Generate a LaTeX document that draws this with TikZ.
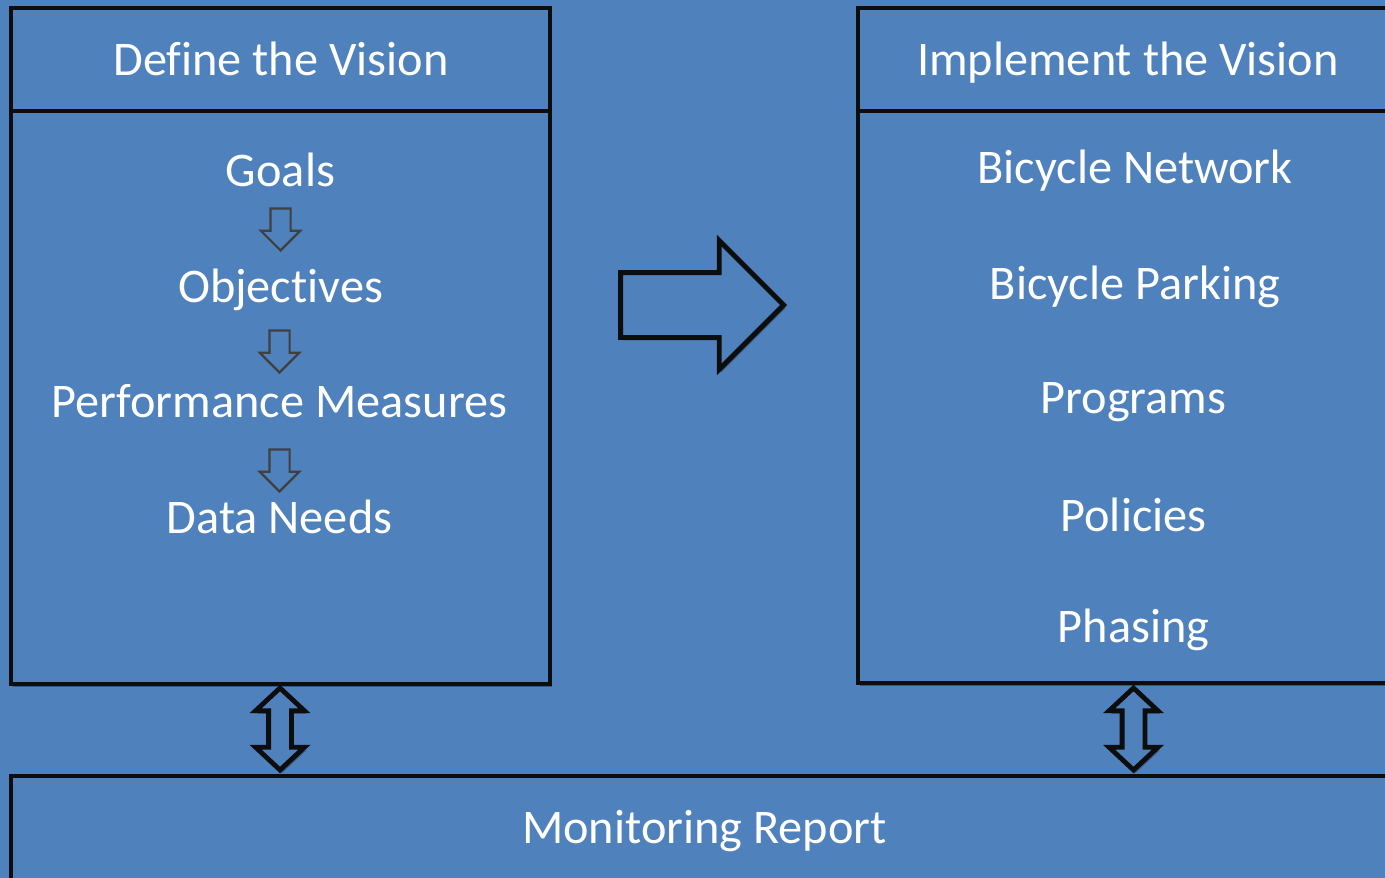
\documentclass[tikz,border=0pt]{standalone}
\usepackage{fontspec}
\setmainfont{Carlito}[RawFeature=-liga]
\usetikzlibrary{shapes.arrows,shadows}
\definecolor{bgblue}{HTML}{4F81BD}
\definecolor{edge}{HTML}{0D0D0D}
\definecolor{thinedge}{HTML}{404040}
\tikzset{
  softshadow/.style={drop shadow={shadow xshift=2pt,shadow yshift=-3pt,opacity=0.3,fill=black}},
  panel/.style={draw=edge,line width=4.8pt,fill=bgblue,softshadow,inner sep=0pt,outer sep=0pt},
  label/.style={text=white,font=\fontsize{48.3}{58}\selectfont,anchor=base,inner sep=0pt},
  smallarrow/.style={single arrow,draw=thinedge,line width=2.2pt,rotate=-90,inner xsep=0pt,inner ysep=9pt,
    minimum height=42pt,single arrow head extend=9.5pt,single arrow tip angle=90,anchor=tip},
  bigarrow/.style={single arrow,draw=edge,line width=4.8pt,fill=bgblue,softshadow,inner xsep=0pt,inner ysep=30pt,
    minimum height=163pt,single arrow head extend=32pt,single arrow tip angle=90,anchor=tip},
  updown/.style={double arrow,draw=edge,line width=4.8pt,fill=bgblue,softshadow,rotate=90,inner xsep=0pt,inner ysep=9pt,
    minimum height=82pt,double arrow head extend=13pt,double arrow tip angle=94},
}
\begin{document}
\begin{tikzpicture}[x=1pt,y=-1pt]
\useasboundingbox (0,0) rectangle (1385,878);
\clip (0,0) rectangle (1385,878);
\fill[bgblue] (0,0) rectangle (1385,878);

% panels
\node[panel,minimum width=539pt,minimum height=676pt] (defbox) at (280.5,346) {};
\draw[edge,line width=4.8pt] (defbox.west |- 0,111) coordinate (dl) -- (defbox.east |- 0,111) coordinate (dr);
\node[panel,minimum width=560pt,minimum height=675pt] (impbox) at (1138,345.5) {};
\draw[edge,line width=4.8pt] (impbox.west |- 0,111) coordinate (il) -- (impbox.east |- 0,111) coordinate (ir);
\node[panel,minimum width=1400pt,minimum height=130pt] (monbox) at (711,841) {};

% left texts
\node[label] (defhead) at (281,75) {Define the Vision};
\node[label] (goals) at (280.5,186) {Goals};
\node[label] (obj) at (280.5,302) {Objectives};
\node[label] (perf) at (279.5,417) {Performance Measures};
\node[label] (data) at (279.5,533) {Data Needs};

\node[smallarrow] (a1) at (280.5,252) {};
\node[smallarrow] (a2) at (279.5,374) {};
\node[smallarrow] (a3) at (279.5,493) {};

% right texts
\node[label] (imphead) at (1128,75) {Implement the Vision};
\node[label] (net) at (1135,183) {Bicycle Network};
\node[label] (park) at (1135,299) {Bicycle Parking};
\node[label] (prog) at (1133.5,413) {Programs};
\node[label] (pol) at (1133.5,531) {Policies};
\node[label] (phas) at (1133.5,642) {Phasing};

% bottom text
\node[label] (mon) at (704.5,843) {Monitoring Report};

% big arrow and double arrows
\node[bigarrow] (big) at (787,305) {};
\node[updown] (dl1) at (280,729) {};
\node[updown] (dr1) at (1133.5,729) {};
\end{tikzpicture}
\end{document}
